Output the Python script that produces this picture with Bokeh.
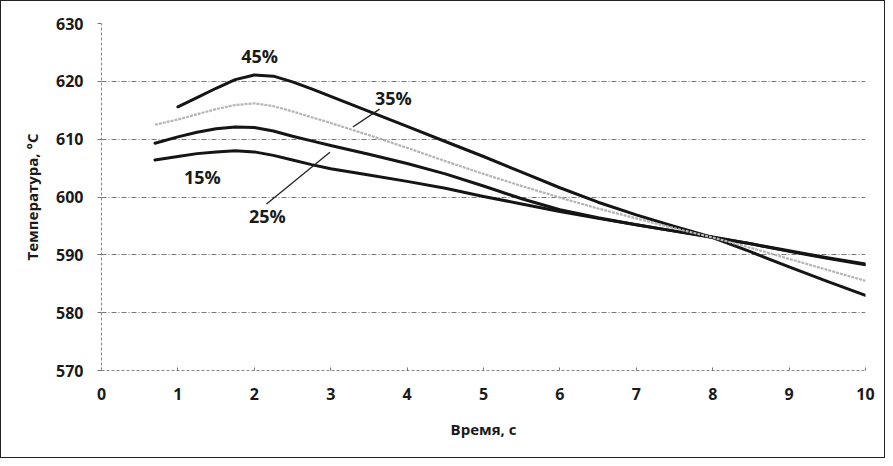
from bokeh.plotting import figure
from bokeh.models import Range1d, FixedTicker, ColumnDataSource
from bokeh.core.properties import value
from bokeh.embed import file_html
from bokeh.resources import INLINE

# ---- data ----
x45 = [1.0, 1.25, 1.5, 1.75, 2.0, 2.25, 2.5, 2.75, 3.0, 3.25, 3.5, 3.75, 4.0, 4.5, 5.0, 5.5,
       6.0, 6.5, 7.0, 7.5, 8.0, 8.5, 9.0, 9.5, 10.0]
t45 = [615.6, 617.2, 618.8, 620.3, 621.1, 620.9, 619.9, 618.7, 617.4, 616.1, 614.8, 613.5, 612.2,
       609.6, 607.0, 604.3, 601.6, 599.1, 596.9, 594.9, 593.0, 590.5, 587.9, 585.4, 583.0]

x35 = [0.7, 1.0, 1.25, 1.5, 1.75, 2.0, 2.25, 2.5, 2.75, 3.0, 3.5, 4.0, 4.5, 5.0, 5.5,
       6.0, 6.5, 7.0, 7.5, 8.0, 8.5, 9.0, 9.5, 10.0]
t35 = [612.5, 613.4, 614.3, 615.2, 615.9, 616.2, 615.7, 614.8, 613.8, 612.8, 610.7, 608.5,
       606.2, 604.0, 601.9, 599.9, 598.0, 596.3, 594.6, 593.0, 591.2, 589.3, 587.4, 585.5]

x25 = [0.7, 1.0, 1.25, 1.5, 1.75, 2.0, 2.25, 2.5, 2.75, 3.0, 3.5, 4.0, 4.5, 5.0, 5.5,
       6.0, 6.5, 7.0, 7.5, 8.0, 8.5, 9.0, 9.5, 10.0]
t25 = [609.3, 610.4, 611.2, 611.8, 612.1, 612.0, 611.4, 610.5, 609.7, 608.9, 607.4, 605.8,
       604.0, 601.9, 599.7, 597.8, 596.4, 595.2, 594.1, 593.0, 591.9, 590.6, 589.4, 588.3]

x15 = [0.7, 1.0, 1.25, 1.5, 1.75, 2.0, 2.25, 2.5, 2.75, 3.0, 3.5, 4.0, 4.5, 5.0, 5.5,
       6.0, 6.5, 7.0, 7.5, 8.0, 8.5, 9.0, 9.5, 10.0]
t15 = [606.4, 607.0, 607.5, 607.8, 608.0, 607.8, 607.2, 606.4, 605.6, 604.9, 603.8, 602.7,
       601.5, 600.1, 598.8, 597.5, 596.3, 595.2, 594.1, 593.1, 591.9, 590.7, 589.5, 588.4]

labels = ["45%", "35%", "25%", "15%"]
label_x = [2.07, 3.82, 2.17, 1.32]
label_y = [624.4, 617.1, 596.8, 603.5]

# leader lines: (x0, y0) -> (x1, y1)
lead_x0 = [3.64, 2.99]
lead_y0 = [615.2, 607.75]
lead_x1 = [3.29, 2.16]
lead_y1 = [612.1, 598.8]

x_ticks = [0, 1, 2, 3, 4, 5, 6, 7, 8, 9, 10]
y_ticks = [570, 580, 590, 600, 610, 620, 630]

FONT = "Open Sans"

p = figure(width=885, height=458, output_backend="svg", toolbar_location=None,
           x_range=Range1d(0, 10), y_range=Range1d(570, 630),
           min_border_left=100, min_border_right=21, min_border_top=22, min_border_bottom=89)
p.styles = {"border": "1.5px solid #222"}
p.outline_line_color = None
p.background_fill_color = "white"
p.border_fill_color = "white"

# grid
p.xgrid.grid_line_color = None
p.ygrid.grid_line_color = "#777777"
p.ygrid.grid_line_dash = "5 2 1 2"
p.ygrid.grid_line_width = 1
p.xaxis.ticker = FixedTicker(ticks=x_ticks)
p.yaxis.ticker = FixedTicker(ticks=y_ticks)

for ax in (p.xaxis[0], p.yaxis[0]):
    ax.axis_line_color = "#888888"
    ax.axis_line_dash = "3 2"
    ax.major_tick_line_color = "#777777"
    ax.minor_tick_line_color = None
    ax.major_label_text_font = FONT
    ax.major_label_text_font_style = "bold"
    ax.major_label_text_font_size = "16px"
    ax.major_label_text_color = "#1a1a1a"
    ax.axis_label_text_font = FONT
    ax.axis_label_text_font_style = "bold"
    ax.axis_label_text_font_size = "15px"
    ax.axis_label_text_color = "#1a1a1a"

p.xaxis.major_tick_in = 3
p.xaxis.major_tick_out = 0
p.yaxis.major_tick_in = 0
p.yaxis.major_tick_out = 4
p.xaxis.major_label_standoff = 17
p.yaxis.major_label_standoff = 14
p.xaxis.axis_label = "Время, с"
p.yaxis.axis_label = "Температура, °С"
p.xaxis.axis_label_standoff = 16
p.yaxis.axis_label_standoff = 11

# curves
for xs, ts in ((x45, t45), (x25, t25), (x15, t15)):
    p.line(xs, ts, line_color="#151515", line_width=3, line_join="round", line_cap="round")
p.line(x35, t35, line_color="#b5b5b5", line_width=2.2, line_dash="3 1", line_join="round")

# leader lines
p.segment(x0=lead_x0, y0=lead_y0, x1=lead_x1, y1=lead_y1, line_color="#222222", line_width=1.3)

src = ColumnDataSource(dict(x=label_x, y=label_y, t=labels))
p.text(x="x", y="y", text="t", source=src, text_font=value(FONT), text_font_style="bold",
       text_font_size="18px", text_color="#1a1a1a", text_align="center", text_baseline="middle")

open("out.html", "w").write(file_html(p, INLINE))
